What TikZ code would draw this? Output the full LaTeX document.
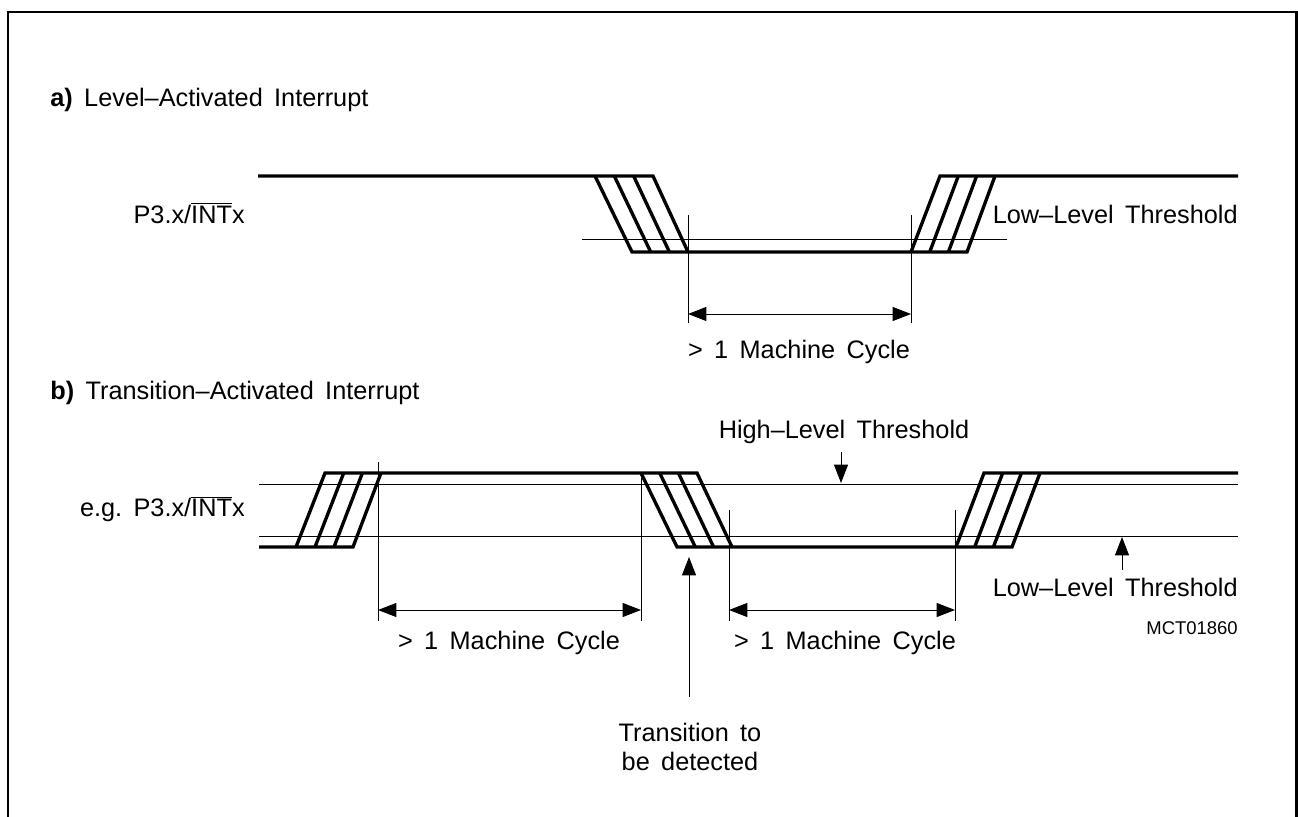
\documentclass[tikz,border=0pt]{standalone}
\usepackage{fontspec}
\setmainfont{Liberation Sans}
\usetikzlibrary{arrows.meta}

\newcommand{\lblfont}{\fontsize{14.4}{16.4}\selectfont\frenchspacing\spaceskip=0.45em plus 0.1em\relax}
\newcommand{\codefont}{\fontsize{10.5}{12}\selectfont}
\newcommand{\intx}{P3.x/$\overline{\mbox{INT}}$x}

\begin{document}
\begin{tikzpicture}[x=0.02cm,y=-0.02cm,line join=miter,
  frame/.style={line width=1.5pt},
  wave/.style={line width=1.9pt},
  hair/.style={line width=0.55pt},
  dimline/.style={hair,{Triangle[length=10.5pt,width=8pt]}-{Triangle[length=10.5pt,width=8pt]}},
  pointer/.style={hair,-{Triangle[length=10.5pt,width=8pt]}},
  lbl/.style={inner sep=0pt,font=\lblfont}]
  \useasboundingbox (0,0) rectangle (1298,817);
  \draw[frame] (8,817) -- (8,12) -- (1296.5,12) -- (1296.5,817);

  % a) level activated
  \node[lbl,anchor=west] (titlea) at (50,100) {\textbf{a)} Level--Activated Interrupt};
  \node[lbl,anchor=east] (siga) at (245,213) {\intx};
  \draw[hair] (582,239) -- (1007,239);
  \draw[wave] (258,176) -- (653,176) -- (688,252);
  \draw[wave] (595,176) -- (632,252) -- (967,252) -- (995,176);
  \draw[wave] (911,252) -- (940,176) -- (1238,176);
  \foreach \i in {1,2} {
    \draw[wave] ({595+19.3*\i},176) -- ({632+18.7*\i},252);
    \draw[wave] ({911+18.7*\i},252) -- ({940+18.3*\i},176);
  }
  \node[lbl,anchor=east] (lothra) at (1238,214) {Low--Level Threshold};
  \draw[hair] (688,215) -- (688,323);
  \draw[hair] (911,215) -- (911,323);
  \coordinate (ma1) at (688,314);
  \coordinate (ma2) at (911,314);
  \draw[dimline] (ma1) -- (ma2);
  \node[lbl] (cyca) at (799,352) {> 1 Machine Cycle};

  % b) transition activated
  \node[lbl,anchor=west] (titleb) at (50,393) {\textbf{b)} Transition--Activated Interrupt};
  \node[lbl,anchor=east] (sigb) at (245,509) {e.g. \intx};
  \draw[hair] (259,484) -- (1238,484);
  \draw[hair] (259,536) -- (1238,536);
  \draw[wave] (259,547) -- (353,547) -- (381,473);
  \draw[wave] (296,547) -- (325,473) -- (697,473) -- (732,547);
  \draw[wave] (641,473) -- (677,547) -- (1012,547) -- (1040,473);
  \draw[wave] (956,547) -- (984,473) -- (1238,473);
  \foreach \i in {1,2} {
    \draw[wave] ({296+19*\i},547) -- ({325+18.7*\i},473);
    \draw[wave] ({641+18.7*\i},473) -- ({677+18.3*\i},547);
    \draw[wave] ({956+18.7*\i},547) -- ({984+18.7*\i},473);
  }
  \draw[hair] (378,462) -- (378,621);
  \draw[hair] (641,478) -- (641,621);
  \draw[hair] (729,510) -- (729,621);
  \draw[hair] (955,510) -- (955,621);
  \coordinate (mb1) at (378,610);
  \coordinate (mb2) at (641,610);
  \coordinate (mb3) at (729,610);
  \coordinate (mb4) at (955,610);
  \draw[dimline] (mb1) -- (mb2);
  \draw[dimline] (mb3) -- (mb4);
  \node[lbl] (cycb1) at (509,643) {> 1 Machine Cycle};
  \node[lbl] (cycb2) at (845,643) {> 1 Machine Cycle};

  \node[lbl] (hithr) at (844,432) {High--Level Threshold};
  \coordinate (hitip) at (841,483);
  \draw[pointer] (hitip |- hithr.south) ++(0,7.5) -- (hitip);
  \node[lbl,anchor=east] (lothrb) at (1238,587) {Low--Level Threshold};
  \coordinate (lotip) at (1122,537);
  \draw[pointer] (lotip |- lothrb.north) ++(0,-7.5) -- (lotip);
  \node[lbl,anchor=east,font=\codefont] (code) at (1238,628) {MCT01860};

  \node[lbl,align=center] (trans) at (690,747) {Transition to\\be detected};
  \coordinate (transtip) at (689,557);
  \draw[pointer] (transtip |- trans.north) ++(0,-26) -- (transtip);
\end{tikzpicture}
\end{document}
